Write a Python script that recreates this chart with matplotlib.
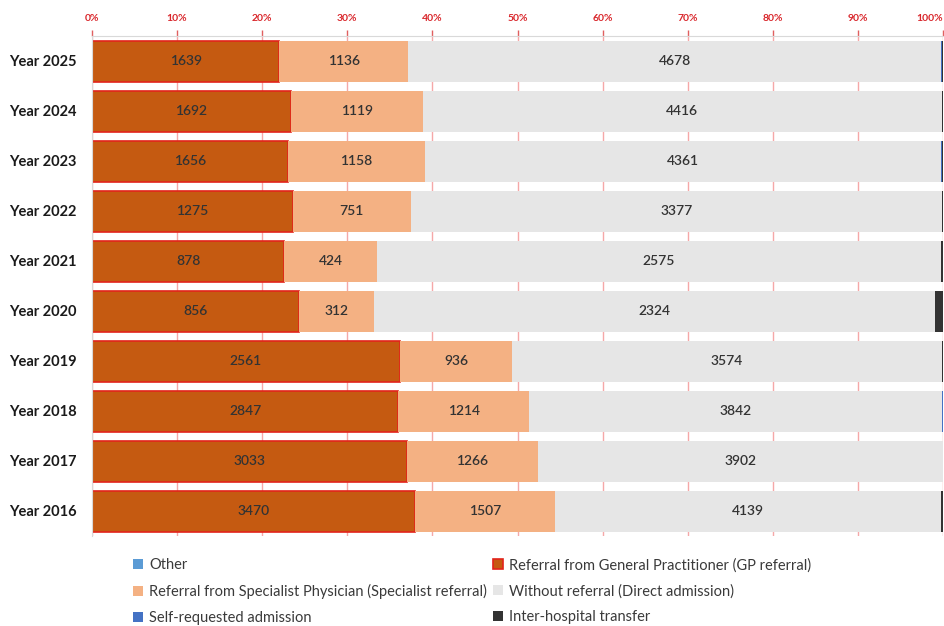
import matplotlib
matplotlib.use("Agg")
import matplotlib.pyplot as plt
import numpy as np
from matplotlib.patches import Patch

plt.rcParams['font.family'] = ['Lato', 'DejaVu Sans']

years = ["Year 2025", "Year 2024", "Year 2023", "Year 2022", "Year 2021",
         "Year 2020", "Year 2019", "Year 2018", "Year 2017", "Year 2016"]
other = [3, 0, 0, 0, 0, 2, 0, 0, 0, 0]
gp = [1639, 1692, 1656, 1275, 878, 856, 2561, 2847, 3033, 3470]
specialist = [1136, 1119, 1158, 751, 424, 312, 936, 1214, 1266, 1507]
direct = [4678, 4416, 4361, 3377, 2575, 2324, 3574, 3842, 3902, 4139]
self_req = [5, 2, 8, 2, 1, 2, 1, 6, 0, 2]
inter = [12, 6, 12, 5, 10, 33, 8, 2, 3, 20]

series = [
    ("Other", other, "#5b9bd5", None, False),
    ("Referral from General Practitioner (GP referral)", gp, "#c55a11", "#e2231a", True),
    ("Referral from Specialist Physician (Specialist referral)", specialist, "#f4b183", None, True),
    ("Without referral (Direct admission)", direct, "#e6e6e6", None, True),
    ("Self-requested admission", self_req, "#4472c4", None, False),
    ("Inter-hospital transfer", inter, "#333333", None, False),
]

data = np.array([s[1] for s in series], dtype=float)
totals = data.sum(axis=0)
pct = data / totals * 100

fig = plt.figure(figsize=(9.44, 6.26), dpi=100)
ax = fig.add_axes([92/944, 1 - 536/626, 851/944, (536 - 36)/626])

y = np.arange(len(years))
left = np.zeros(len(years))
handles = {}
for i, (name, vals, color, edge, label) in enumerate(series):
    if edge:
        kw = dict(edgecolor=edge, linewidth=1.2)
    else:
        kw = dict(linewidth=0)
    bars = ax.barh(y, pct[i], left=left, height=0.82, color=color, zorder=2, **kw)
    if label:
        for j, b in enumerate(bars):
            ax.text(left[j] + pct[i][j] / 2, y[j], f"{int(vals[j])}",
                    ha="center", va="center", fontsize=10, color="#333333",
                    fontweight="semibold", zorder=3)
    handles[name] = Patch(facecolor=color, edgecolor=edge if edge else color, linewidth=1.2 if edge else 0)
    left += pct[i]

ax.set_xlim(0, 100)
ax.set_ylim(len(years) - 0.5, -0.5)
ax.set_yticks(y)
ax.set_yticklabels(years, fontsize=10.5, fontweight="bold", color="#1a1a1a")
ax.xaxis.tick_top()
ax.set_xticks(np.arange(0, 101, 10))
ax.set_xticklabels([f"{v}%" for v in range(0, 101, 10)], fontsize=7.5,
                   fontweight="bold", color="#d9262b")
ax.get_xticklabels()[-1].set_ha("right")
ax.tick_params(axis="x", colors="#e06060", labelcolor="#d9262b", length=4, width=1, pad=5.5)
ax.tick_params(axis="y", length=0, pad=11)
for sp in ["right", "bottom"]:
    ax.spines[sp].set_visible(False)
ax.spines["top"].set_color("#d9d9d9")
ax.spines["left"].set_color("#d9d9d9")
ax.grid(axis="x", color="#f5a8a8", linewidth=1, zorder=0)
ax.set_axisbelow(True)

order = ["Other", "Referral from Specialist Physician (Specialist referral)", "Self-requested admission",
         "Referral from General Practitioner (GP referral)", "Without referral (Direct admission)",
         "Inter-hospital transfer"]
leg = fig.legend([handles[n] for n in order], order, ncol=2, loc="upper left",
                 bbox_to_anchor=(133/944, 1 - 558/626), frameon=False, fontsize=10.5,
                 handlelength=0.7, handleheight=0.7, handletextpad=0.4,
                 columnspacing=0.4, labelspacing=0.8, borderaxespad=0, borderpad=0)
for t in leg.get_texts():
    t.set_color("#3a3a3a")

fig.savefig("out.png", dpi=100)
